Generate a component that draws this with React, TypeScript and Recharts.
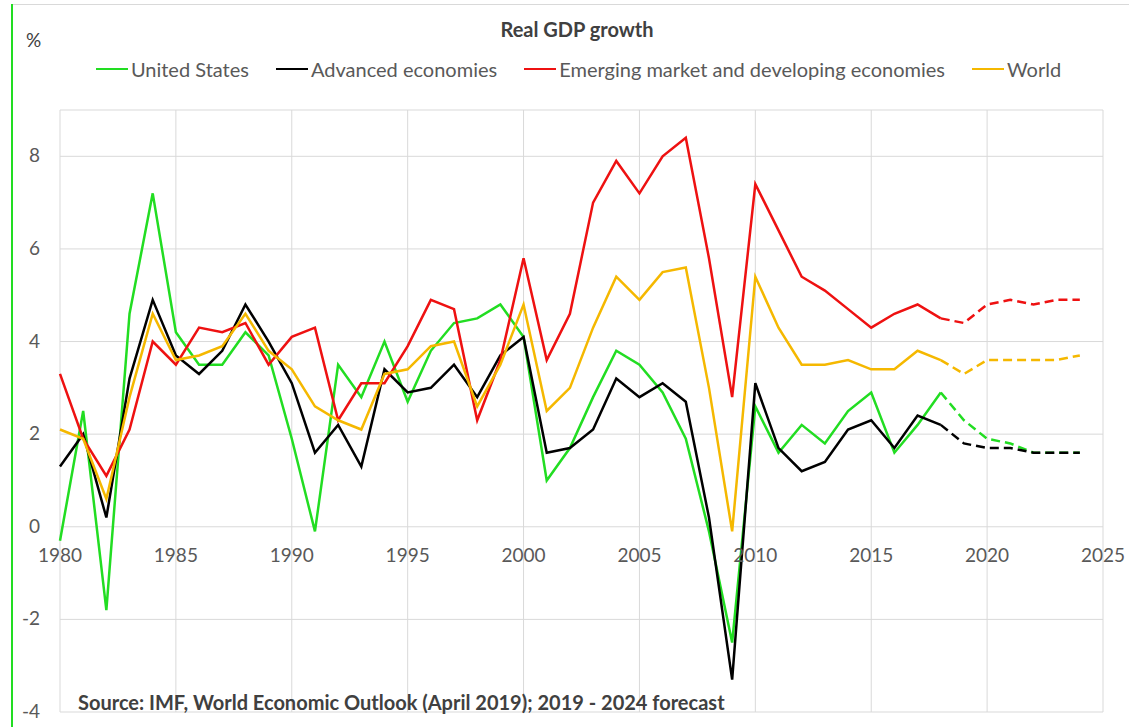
import React from 'react';
import { LineChart, Line, XAxis, YAxis, CartesianGrid } from 'recharts';

// Real GDP growth, % (IMF WEO April 2019); 2019-2024 are forecasts
const years = [
  1980, 1981, 1982, 1983, 1984, 1985, 1986, 1987, 1988, 1989,
  1990, 1991, 1992, 1993, 1994, 1995, 1996, 1997, 1998, 1999,
  2000, 2001, 2002, 2003, 2004, 2005, 2006, 2007, 2008, 2009,
  2010, 2011, 2012, 2013, 2014, 2015, 2016, 2017, 2018, 2019,
  2020, 2021, 2022, 2023, 2024,
];
const unitedStates = [
  -0.3, 2.5, -1.8, 4.6, 7.2, 4.2, 3.5, 3.5, 4.2, 3.7,
  1.9, -0.1, 3.5, 2.8, 4.0, 2.7, 3.8, 4.4, 4.5, 4.8,
  4.1, 1.0, 1.7, 2.8, 3.8, 3.5, 2.9, 1.9, -0.1, -2.5,
  2.6, 1.6, 2.2, 1.8, 2.5, 2.9, 1.6, 2.2, 2.9, 2.3,
  1.9, 1.8, 1.6, 1.6, 1.6,
];
const advanced = [
  1.3, 2.0, 0.2, 3.2, 4.9, 3.7, 3.3, 3.8, 4.8, 4.0,
  3.1, 1.6, 2.2, 1.3, 3.4, 2.9, 3.0, 3.5, 2.8, 3.7,
  4.1, 1.6, 1.7, 2.1, 3.2, 2.8, 3.1, 2.7, 0.2, -3.3,
  3.1, 1.7, 1.2, 1.4, 2.1, 2.3, 1.7, 2.4, 2.2, 1.8,
  1.7, 1.7, 1.6, 1.6, 1.6,
];
const emerging = [
  3.3, 1.9, 1.1, 2.1, 4.0, 3.5, 4.3, 4.2, 4.4, 3.5,
  4.1, 4.3, 2.3, 3.1, 3.1, 3.9, 4.9, 4.7, 2.3, 3.6,
  5.8, 3.6, 4.6, 7.0, 7.9, 7.2, 8.0, 8.4, 5.8, 2.8,
  7.4, 6.4, 5.4, 5.1, 4.7, 4.3, 4.6, 4.8, 4.5, 4.4,
  4.8, 4.9, 4.8, 4.9, 4.9,
];
const world = [
  2.1, 1.9, 0.6, 2.8, 4.6, 3.6, 3.7, 3.9, 4.6, 3.8,
  3.4, 2.6, 2.3, 2.1, 3.3, 3.4, 3.9, 4.0, 2.6, 3.5,
  4.8, 2.5, 3.0, 4.3, 5.4, 4.9, 5.5, 5.6, 3.0, -0.1,
  5.4, 4.3, 3.5, 3.5, 3.6, 3.4, 3.4, 3.8, 3.6, 3.3,
  3.6, 3.6, 3.6, 3.6, 3.7,
];
const lastActualYear = 2018;

const xTicks = [1980, 1985, 1990, 1995, 2000, 2005, 2010, 2015, 2020, 2025];
const yTicks = [-4, -2, 0, 2, 4, 6, 8];
const yDomain = [-4, 9];

const series = [
  { key: 'us', name: 'United States', values: unitedStates, color: '#22dd22' },
  { key: 'adv', name: 'Advanced economies', values: advanced, color: '#000000' },
  { key: 'emde', name: 'Emerging market and developing economies', values: emerging, color: '#ee1111' },
  { key: 'world', name: 'World', values: world, color: '#f5b800' },
];

// split each series into actual (solid) and forecast (dashed) parts
const data = years.map((year, i) => {
  const row: any = { year };
  series.forEach((s) => {
    row[s.key] = year <= lastActualYear ? s.values[i] : null;
    row[s.key + 'F'] = year >= lastActualYear ? s.values[i] : null;
  });
  return row;
});

const FONT = 'Lato, "Open Sans", sans-serif';
const W = 1129;
const H = 727;
const plotTop = 110;
const plotBottom = 712;
const zeroY =
  plotBottom - ((0 - yDomain[0]) / (yDomain[1] - yDomain[0])) * (plotBottom - plotTop);

// year labels sit just under the zero line, like an Excel axis crossing at 0
const YearTick = (props: any) => {
  const { x, payload } = props;
  return (
    <text x={x} y={zeroY + 35} textAnchor="middle" fill="#595959" fontSize={19} fontFamily={FONT}>
      {payload.value}
    </text>
  );
};

const ValueTick = (props: any) => {
  const { y, payload } = props;
  return (
    <text x={40} y={y + 6} textAnchor="end" fill="#595959" fontSize={19} fontFamily={FONT}>
      {payload.value}
    </text>
  );
};

export default function App() {
  return (
    <div style={{ position: 'absolute', left: 0, top: 0, width: W, height: H, background: '#fff', fontFamily: FONT }}>
      {/* frame edges of the cropped sheet */}
      <div style={{ position: 'absolute', left: 11, top: 4, width: W - 11, height: 1, background: '#d9d9d9' }} />
      <div style={{ position: 'absolute', left: 11, top: 4, width: 2, height: H - 4, background: '#22dd22' }} />

      <div style={{ position: 'absolute', left: 0, width: W, top: 17, textAlign: 'center', fontWeight: 700, fontSize: 20, color: '#404040', paddingLeft: 25, boxSizing: 'border-box' }}>
        Real GDP growth
      </div>
      <div style={{ position: 'absolute', left: 26, top: 28, fontSize: 19, color: '#404040' }}>%</div>

      <div style={{ position: 'absolute', left: 0, top: 57, width: W, display: 'flex', justifyContent: 'center', paddingLeft: 28, boxSizing: 'border-box' }}>
        {series.map((s, i) => (
          <div key={s.key} style={{ display: 'flex', alignItems: 'center', marginRight: i < series.length - 1 ? 27 : 0, fontSize: 20, color: '#595959' }}>
            <div style={{ width: 32, height: 2.5, background: s.color, marginRight: 3 }} />
            <span>{s.name}</span>
          </div>
        ))}
      </div>

      <LineChart width={W} height={H} data={data} margin={{ top: plotTop, right: 26, bottom: H - plotBottom - 1, left: 0 }}>
        <CartesianGrid stroke="#d9d9d9" strokeWidth={1} />
        <XAxis
          dataKey="year"
          type="number"
          domain={[1980, 2025]}
          ticks={xTicks}
          height={1}
          axisLine={false}
          tickLine={false}
          tick={<YearTick />}
          interval={0}
        />
        <YAxis
          type="number"
          domain={yDomain}
          ticks={yTicks}
          width={60}
          axisLine={false}
          tickLine={false}
          tick={<ValueTick />}
          interval={0}
        />
        {series.map((s) => (
          <Line
            key={s.key}
            dataKey={s.key}
            stroke={s.color}
            strokeWidth={2.5}
            dot={false}
            type="linear"
            isAnimationActive={false}
          />
        ))}
        {series.map((s) => (
          <Line
            key={s.key + 'F'}
            dataKey={s.key + 'F'}
            stroke={s.color}
            strokeWidth={2.5}
            strokeDasharray="9 5"
            dot={false}
            type="linear"
            isAnimationActive={false}
          />
        ))}
      </LineChart>

      <div style={{ position: 'absolute', left: 78, top: 690, fontWeight: 700, fontSize: 20, color: '#404040' }}>
        Source: IMF, World Economic Outlook (April 2019); 2019 - 2024 forecast
      </div>
    </div>
  );
}
